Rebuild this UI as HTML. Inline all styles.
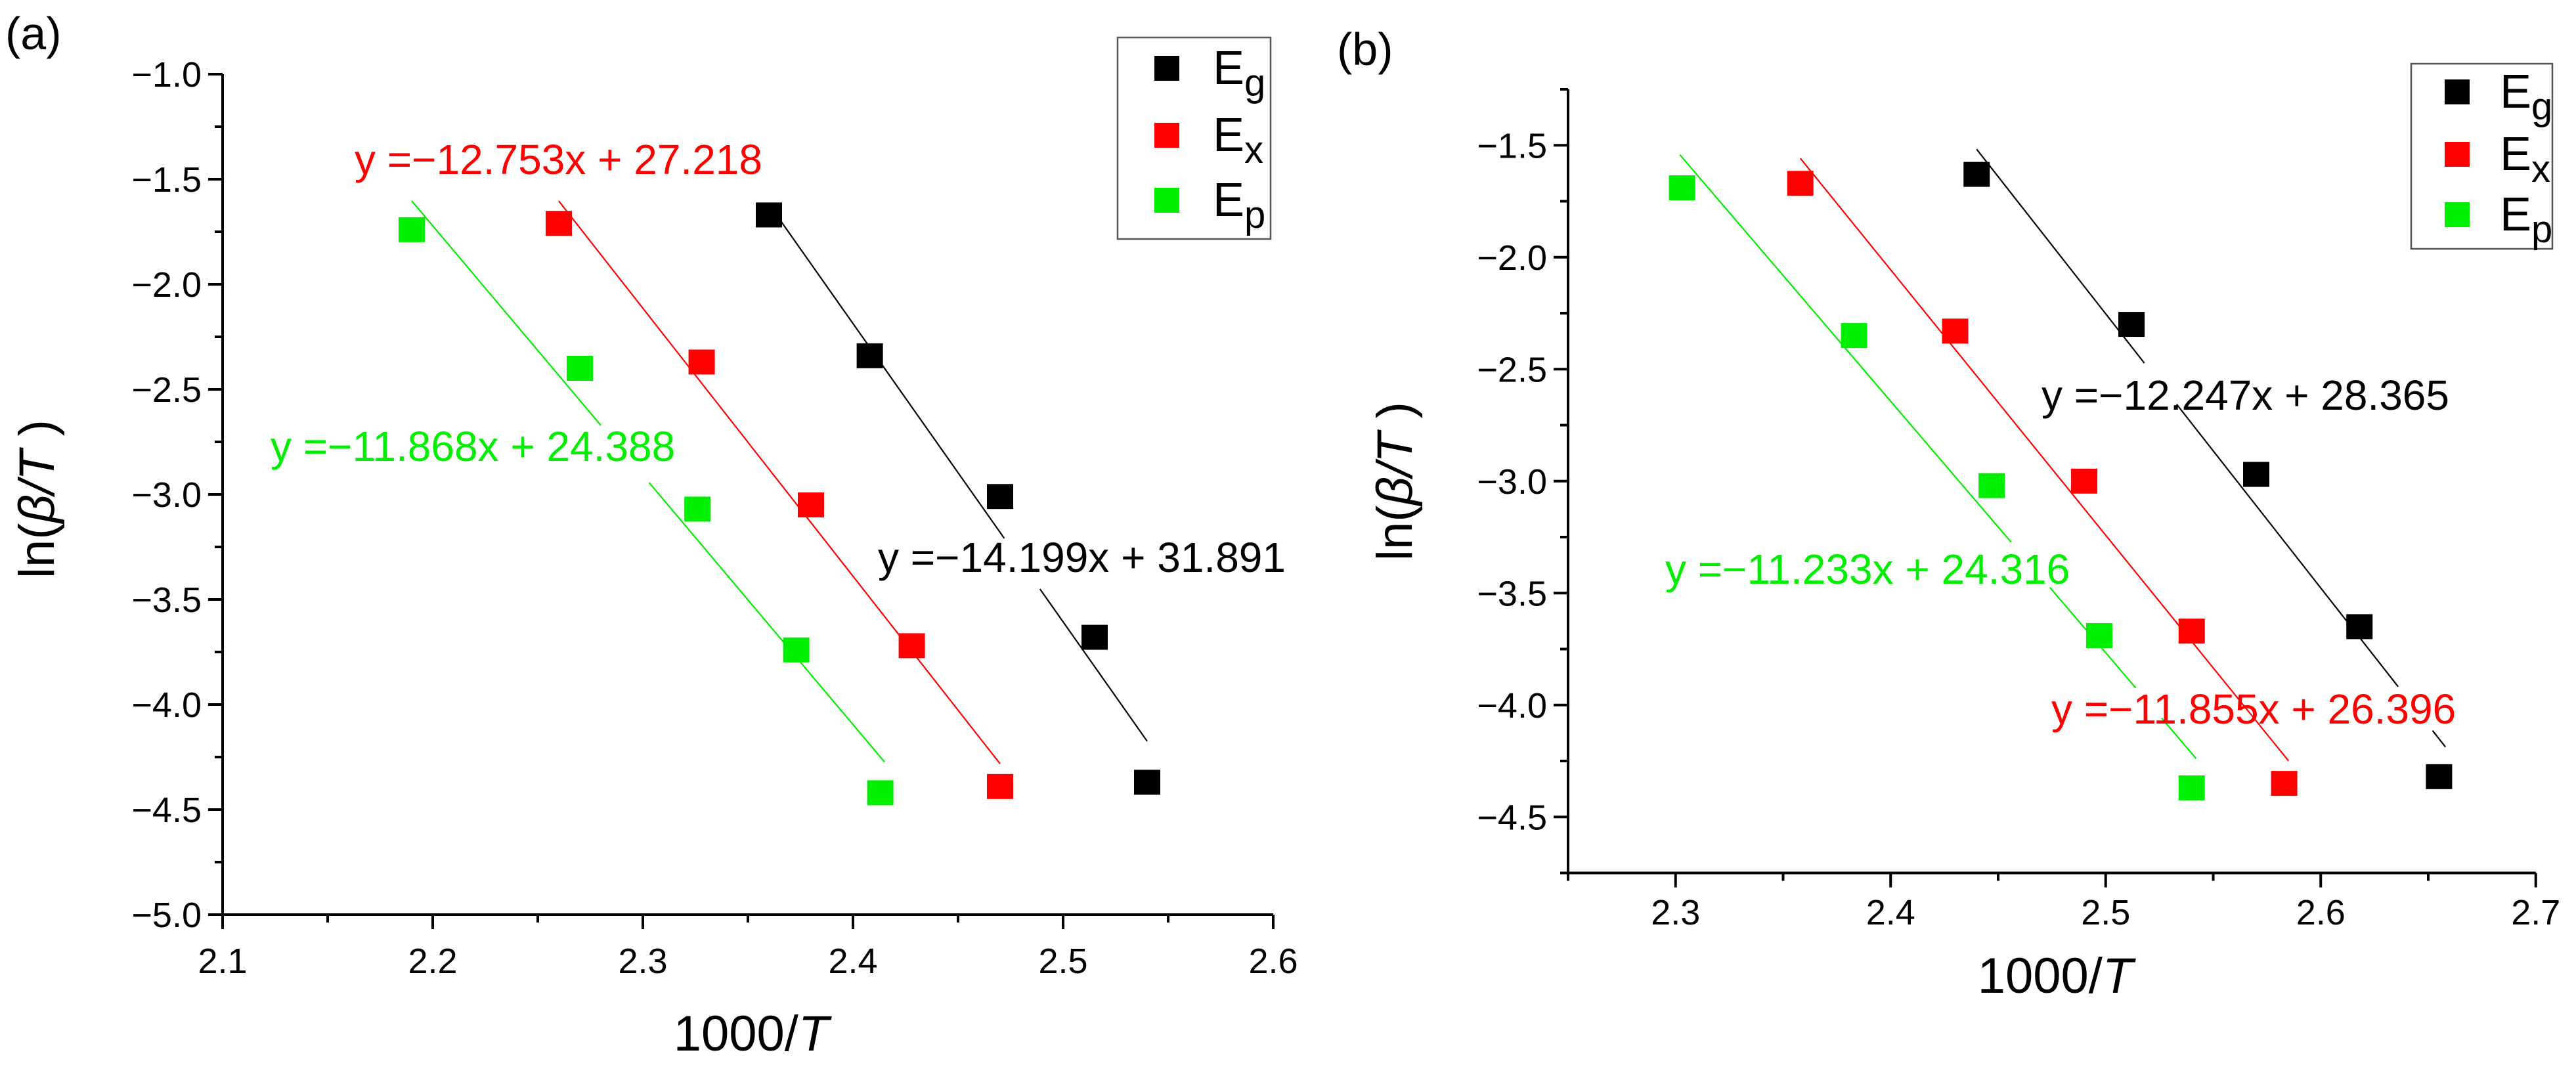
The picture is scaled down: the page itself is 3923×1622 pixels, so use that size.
<!DOCTYPE html>
<html><head><meta charset="utf-8"><style>
html,body{margin:0;padding:0;background:#fff}
svg{display:block;font-family:"Liberation Sans",Arial,sans-serif}
</style></head><body>
<svg id="fig" width="3923" height="1622" viewBox="0 0 3923 1622" xmlns="http://www.w3.org/2000/svg"></svg>
<script>
// ---- Panel (a) data ----
const aEgX=[2.36,2.408,2.47,2.515,2.54];
const aEgY=[-1.67,-2.34,-3.01,-3.68,-4.37];
const aExX=[2.26,2.328,2.38,2.428,2.47];
const aExY=[-1.71,-2.37,-3.05,-3.72,-4.39];
const aEpX=[2.19,2.27,2.326,2.373,2.413];
const aEpY=[-1.74,-2.40,-3.07,-3.74,-4.42];
const aFitSlope=[-14.199,-12.753,-11.868];
const aFitIntercept=[31.891,27.218,24.388];
const aFitRange=[[2.36,2.54],[2.26,2.47],[2.19,2.415]];
const aXTicks=[2.1,2.2,2.3,2.4,2.5,2.6];
const aYTicks=[-1.0,-1.5,-2.0,-2.5,-3.0,-3.5,-4.0,-4.5,-5.0];
// ---- Panel (b) data ----
const bEgX=[2.44,2.512,2.57,2.618,2.655];
const bEgY=[-1.63,-2.30,-2.97,-3.65,-4.32];
const bExX=[2.358,2.43,2.49,2.54,2.583];
const bExY=[-1.67,-2.33,-3.00,-3.67,-4.35];
const bEpX=[2.303,2.383,2.447,2.497,2.54];
const bEpY=[-1.69,-2.35,-3.02,-3.69,-4.37];
const bFitSlope=[-12.247,-11.855,-11.233];
const bFitIntercept=[28.365,26.396,24.316];
const bFitRange=[[2.44,2.658],[2.358,2.585],[2.302,2.542]];
const bXTicks=[2.3,2.4,2.5,2.6,2.7];
const bYTicks=[-1.5,-2.0,-2.5,-3.0,-3.5,-4.0,-4.5];

const NS="http://www.w3.org/2000/svg";
const svg=document.getElementById('fig');
function mk(tag,attrs,parent,text){const e=document.createElementNS(NS,tag);for(const k in attrs)e.setAttribute(k,attrs[k]);if(text!==undefined)e.textContent=text;(parent||svg).appendChild(e);return e;}
const colors=['#000000','#ff0000','#00ee00'];
const names=['Eg','Ex','Ep'];
const subs=['g','x','p'];
function fmt(v){return (v<0?'\u2212':'')+Math.abs(v).toFixed(1);}

function panel(cfg){
  const g=mk('g',{});
  
  
  const X=v=>cfg.x0+(v-cfg.xmin)*cfg.sx;
  const Y=v=>cfg.y0+(cfg.ymax-v)*cfg.sy;
  const left=X(cfg.xmin),right=X(cfg.xmax),top=Y(cfg.ymax),bot=Y(cfg.ymin);
  const ax=mk('path',{d:`M${left} ${top}L${left} ${bot}L${right} ${bot}`,stroke:'#000','stroke-width':4,fill:'none'},g);
  
  
  for(let v=cfg.xmin;v<=cfg.xmax+1e-9;v+=0.05){
    const major=cfg.xTicks.some(t=>Math.abs(t-v)<1e-6);
    mk('line',{x1:X(v),x2:X(v),y1:bot,y2:bot+(major?22:12),stroke:'#000','stroke-width':4},g);
  }
  cfg.xTicks.forEach(t=>{
    const tl=mk('text',{x:X(t),y:cfg.xLabBase,'font-size':54,'text-anchor':'middle',fill:'#000'},g,t.toFixed(1));
    
    
  });
  for(let v=cfg.ymax;v>=cfg.ymin-1e-9;v-=0.25){
    const major=cfg.yTicks.some(t=>Math.abs(t-v)<1e-6);
    mk('line',{x1:left,x2:left-(major?22:12),y1:Y(v),y2:Y(v),stroke:'#000','stroke-width':4},g);
  }
  cfg.yTicks.forEach(t=>{
    const tl=mk('text',{x:left-32,y:Y(t)+19,'font-size':54,'text-anchor':'end',fill:'#000'},g,fmt(t));
    
    
  });
  cfg.fits.forEach((f,i)=>{
    const segs=[];let s=f.range[0];
    (f.gaps||[]).forEach(gp=>{segs.push([s,gp[0]]);s=gp[1];});
    segs.push([s,f.range[1]]);
    segs.forEach(sg=>{
      const l=mk('line',{x1:X(sg[0]),y1:Y(f.m*sg[0]+f.b),x2:X(sg[1]),y2:Y(f.m*sg[1]+f.b),stroke:colors[i],'stroke-width':2.2},g);
      
      
    });
  });
  cfg.series.forEach((s,i)=>{
    s.x.forEach((xv,j)=>{
      const r=mk('rect',{x:X(xv)-20,y:Y(s.y[j])-19,width:40,height:38,fill:colors[i]},g);
      
      
    });
  });
  cfg.eqs.forEach(e=>{
    const t=mk('text',{x:e.x,y:e.y,'font-size':64,fill:colors[e.c]},g,e.t);
    
    
  });
  const L=cfg.legend;
  const lb=mk('rect',{x:L.x,y:L.y,width:L.w,height:L.h,fill:'#fff',stroke:'#555','stroke-width':2.5},g);
  
  
  L.rows.forEach((ry,i)=>{
    const m=mk('rect',{x:L.mx-19,y:ry-19,width:38,height:38,fill:colors[i]},g);
    
    
    const t=mk('text',{x:L.tx,y:ry+24,'font-size':72,fill:'#000'},g);
    
    
    mk('tspan',{},t,'E');
    mk('tspan',{dy:18,'font-size':58},t,subs[i]);
  });
  const yt=mk('text',{x:0,y:0,'font-size':76,'text-anchor':'middle',fill:'#000',transform:`translate(${cfg.ytX},${cfg.ytY}) rotate(-90)`},g);
  
  
  mk('tspan',{},yt,'ln(');mk('tspan',{'font-style':'italic'},yt,'\u03b2/T');mk('tspan',{},yt,' )');
  const xt=mk('text',{x:cfg.xtX,y:cfg.xtY,'font-size':76,'text-anchor':'middle',fill:'#000'},g);
  
  
  mk('tspan',{},xt,'1000/');mk('tspan',{'font-style':'italic'},xt,'T');
  const pl=mk('text',{x:cfg.plX,y:cfg.plY,'font-size':70,fill:'#000'},g,cfg.label);
  
  
}

panel({id:'a',x0:339,xmin:2.1,xmax:2.6,sx:3200,y0:113,ymax:-1.0,ymin:-5.0,sy:320,
  xTicks:aXTicks,yTicks:aYTicks,xLabBase:1482,
  series:[{x:aEgX,y:aEgY},{x:aExX,y:aExY},{x:aEpX,y:aEpY}],
  fits:[{m:aFitSlope[0],b:aFitIntercept[0],range:aFitRange[0],gaps:[[2.472,2.489]]},
        {m:aFitSlope[1],b:aFitIntercept[1],range:aFitRange[1]},
        {m:aFitSlope[2],b:aFitIntercept[2],range:aFitRange[2],gaps:[[2.28,2.303]]}],
  eqs:[{x:540,y:265,c:1,t:'y =\u221212.753x + 27.218'},{x:412,y:702,c:2,t:'y =\u221211.868x + 24.388'},{x:1337,y:871,c:0,t:'y =\u221214.199x + 31.891'}],
  legend:{x:1702,y:57,w:233,h:307,mx:1777,tx:1847,rows:[104,206,305]},
  ytX:82,ytY:760,xtX:1144,xtY:1600,plX:8,plY:75,label:'(a)'});

panel({id:'b',x0:2388,xmin:2.25,xmax:2.7,sx:3275,y0:136,ymax:-1.25,ymin:-4.75,sy:341,
  xTicks:bXTicks,yTicks:bYTicks,xLabBase:1408,
  series:[{x:bEgX,y:bEgY},{x:bExX,y:bExY},{x:bEpX,y:bEpY}],
  fits:[{m:bFitSlope[0],b:bFitIntercept[0],range:bFitRange[0],gaps:[[2.518,2.533],[2.636,2.652]]},
        {m:bFitSlope[1],b:bFitIntercept[1],range:bFitRange[1]},
        {m:bFitSlope[2],b:bFitIntercept[2],range:bFitRange[2],gaps:[[2.456,2.474],[2.514,2.526]]}],
  eqs:[{x:3109,y:624,c:0,t:'y =\u221212.247x + 28.365'},{x:2536,y:889,c:2,t:'y =\u221211.233x + 24.316'},{x:3124,y:1102,c:1,t:'y =\u221211.855x + 26.396'}],
  legend:{x:3672,y:97,w:215,h:282,mx:3742,tx:3807,rows:[140,235,327]},
  ytX:2150,ytY:733,xtX:3130,xtY:1512,plX:2036,plY:99,label:'(b)'});
</script>
</body></html>
